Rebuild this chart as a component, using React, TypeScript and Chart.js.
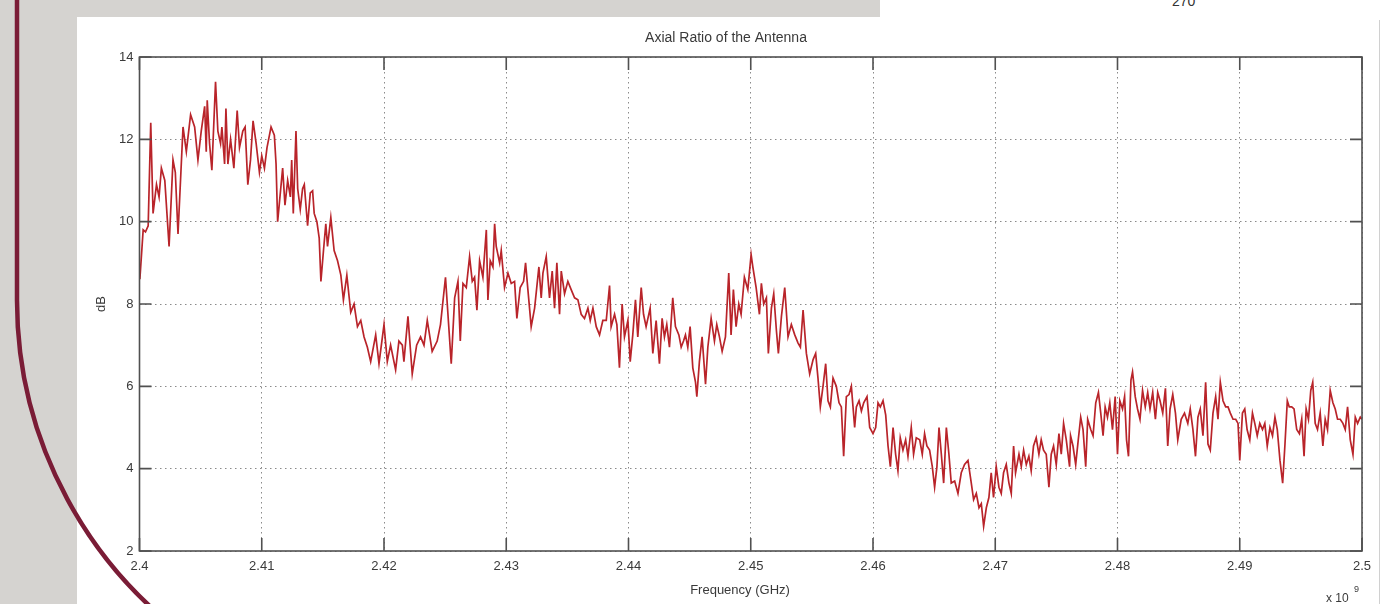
import React, { useEffect, useRef } from "react";
import { Chart, registerables } from "chart.js";

Chart.register(...registerables);

const TITLE = "Axial Ratio of the Antenna";
const X_LABEL = "Frequency (GHz)";
const Y_LABEL = "dB";
const X_EXP_BASE = "x 10";
const X_EXP_POWER = "9";
const CORNER_TEXT = "270";

const X_TICKS = [2.4, 2.41, 2.42, 2.43, 2.44, 2.45, 2.46, 2.47, 2.48, 2.49, 2.5];
const X_TICK_LABELS = ["2.4", "2.41", "2.42", "2.43", "2.44", "2.45", "2.46", "2.47", "2.48", "2.49", "2.5"];
const Y_TICKS = [2, 4, 6, 8, 10, 12, 14];
const Y_TICK_LABELS = ["2", "4", "6", "8", "10", "12", "14"];

// [frequency (GHz), axial ratio (dB)]
const band240: [number, number][] = [
  [2.40003, 8.6], [2.4003, 9.8], [2.40049, 9.75], [2.40071, 9.9], [2.40092, 12.4], [2.40111, 10.2],
  [2.40139, 10.9], [2.4016, 10.6], [2.40179, 11.3], [2.40207, 11.0], [2.40242, 9.4], [2.40274, 11.5],
  [2.40293, 11.2], [2.40315, 9.7], [2.40356, 12.3], [2.40383, 11.7], [2.40418, 12.6], [2.40451, 12.3],
  [2.40478, 11.5], [2.40505, 12.2], [2.40533, 12.8], [2.40546, 11.7], [2.40554, 12.95], [2.40573, 11.9],
  [2.40592, 11.25], [2.40622, 13.4], [2.40641, 12.2], [2.40663, 11.9], [2.40674, 12.3], [2.40696, 11.4],
  [2.40707, 12.75], [2.40723, 11.4], [2.40745, 12.0], [2.40772, 11.3], [2.40799, 12.7], [2.40818, 11.8],
  [2.40845, 12.2], [2.40864, 12.3], [2.40886, 10.9], [2.40908, 11.5], [2.40929, 12.45], [2.40954, 11.9],
  [2.40981, 11.2], [2.41, 11.6], [2.41022, 11.3], [2.41043, 11.8], [2.41076, 12.3], [2.41103, 12.1],
  [2.41117, 11.4], [2.4113, 10.0], [2.41152, 10.7], [2.41171, 11.3], [2.4119, 10.4], [2.41212, 11.0],
  [2.41234, 10.6], [2.41245, 11.5], [2.41258, 10.2], [2.4128, 12.2], [2.41294, 10.8], [2.41315, 10.3],
  [2.41334, 10.8], [2.41348, 10.9], [2.41375, 9.9], [2.41397, 10.7], [2.41416, 10.75], [2.41429, 10.2],
  [2.41451, 10.0], [2.4147, 9.6], [2.41484, 8.55], [2.41505, 9.3], [2.41524, 9.95], [2.41538, 9.4],
  [2.41565, 10.1], [2.41592, 9.3], [2.4162, 9.05], [2.41647, 8.7], [2.41668, 8.1], [2.41696, 8.7],
  [2.41728, 7.8], [2.41755, 8.0], [2.41783, 7.45], [2.4181, 7.6], [2.41837, 7.2], [2.41864, 6.95],
  [2.41891, 6.6], [2.41932, 7.25], [2.41959, 6.55], [2.42, 7.5], [2.42027, 6.6], [2.42054, 7.0],
  [2.42095, 6.4], [2.42122, 7.1], [2.4215, 7.0], [2.42163, 6.6], [2.42196, 7.7], [2.42231, 6.3],
  [2.42267, 7.0], [2.42299, 7.2], [2.42327, 7.0], [2.42354, 7.6], [2.42394, 6.85], [2.42435, 7.1],
  [2.42462, 7.5], [2.42503, 8.65],
];

const band2425: [number, number][] = [
  [2.4255, 6.55], [2.42578, 8.15], [2.42605, 8.55], [2.42624, 7.1], [2.42646, 8.5], [2.42673, 8.4],
  [2.427, 9.15], [2.42722, 8.55], [2.42741, 8.65], [2.4276, 7.85], [2.42782, 9.05], [2.42809, 8.65],
  [2.42837, 9.8], [2.4285, 8.1], [2.42869, 9.05], [2.42891, 8.9], [2.42905, 9.95], [2.42918, 9.4],
  [2.42946, 9.0], [2.42959, 9.3], [2.42986, 8.4], [2.43014, 8.75], [2.43041, 8.5], [2.43068, 8.55],
  [2.43087, 7.65], [2.43114, 8.4], [2.43142, 8.55], [2.43158, 9.0], [2.43177, 8.35], [2.43204, 7.45],
  [2.43232, 7.9], [2.43267, 8.9], [2.43286, 8.15], [2.433, 8.75], [2.43327, 9.15], [2.43354, 8.15],
  [2.43376, 8.8], [2.43395, 7.9], [2.43414, 9.0], [2.43436, 7.75], [2.4345, 8.8], [2.43477, 8.25],
  [2.43504, 8.55], [2.43531, 8.35], [2.43559, 8.15], [2.43586, 8.1], [2.43613, 7.75], [2.4364, 7.65],
  [2.43668, 7.9], [2.43687, 7.6], [2.43709, 7.9], [2.43736, 7.45], [2.43763, 7.25], [2.4379, 7.6],
  [2.43818, 7.6], [2.43845, 8.45], [2.43858, 7.45], [2.43886, 7.75], [2.43905, 7.5], [2.43926, 6.45],
  [2.43948, 8.0], [2.43967, 7.2], [2.43995, 7.6], [2.44014, 6.6], [2.44035, 7.25], [2.44057, 8.1],
  [2.44076, 7.2], [2.44104, 8.4], [2.44123, 7.75], [2.44144, 7.45], [2.44177, 7.9], [2.44199, 6.8],
  [2.44226, 7.6], [2.44253, 6.55], [2.44275, 7.65], [2.44294, 7.2], [2.44313, 7.5], [2.44335, 6.95],
  [2.44362, 8.15], [2.44384, 7.45], [2.44412, 7.25], [2.44431, 6.95], [2.4445, 7.1], [2.44466, 7.25],
  [2.44485, 6.95], [2.44504, 7.45], [2.44526, 6.45], [2.44548, 6.1], [2.44559, 5.75], [2.4458, 6.6],
  [2.44602, 7.2], [2.4463, 6.05], [2.44649, 6.95], [2.44676, 7.65], [2.44703, 7.1], [2.44722, 7.5],
  [2.44744, 7.2], [2.44766, 6.85], [2.44793, 7.2], [2.4482, 8.75], [2.44839, 7.25], [2.44858, 8.35],
  [2.4488, 7.45], [2.44902, 8.0], [2.44921, 7.75], [2.44948, 8.65], [2.44976, 8.35], [2.45003, 9.2],
  [2.45017, 8.9], [2.45044, 8.4], [2.45071, 7.75],
];

const band245: [number, number][] = [
  [2.45087, 8.5], [2.45106, 8.0], [2.45128, 8.15], [2.45144, 6.8], [2.45169, 7.9], [2.45188, 8.25],
  [2.4521, 7.35], [2.45226, 6.8], [2.45251, 7.7], [2.45278, 8.4], [2.45305, 7.2], [2.45332, 7.5],
  [2.4536, 7.25], [2.45387, 7.05], [2.45406, 6.95], [2.45428, 7.85], [2.45455, 6.8], [2.45482, 6.3],
  [2.4551, 6.65], [2.45531, 6.8], [2.4555, 6.2], [2.45569, 5.5], [2.45591, 6.0], [2.45613, 6.55],
  [2.45632, 5.65], [2.45651, 5.5], [2.45673, 6.2], [2.457, 6.0], [2.45722, 5.6], [2.45741, 5.5],
  [2.4576, 4.3], [2.45782, 5.75], [2.45804, 5.8], [2.45823, 6.0], [2.4585, 5.0], [2.45864, 5.5],
  [2.45886, 5.65], [2.45905, 5.4], [2.45924, 5.6], [2.45951, 5.75], [2.45973, 5.0], [2.46, 4.85],
  [2.46022, 5.0], [2.46041, 5.6], [2.4606, 5.5], [2.46082, 5.65], [2.46104, 5.3], [2.46123, 4.55],
  [2.46142, 4.05], [2.46164, 5.0], [2.46185, 4.35], [2.46204, 3.95], [2.46223, 4.75], [2.46245, 4.45],
  [2.46267, 4.7], [2.46286, 4.3], [2.46313, 5.0], [2.46332, 4.35], [2.46354, 4.75], [2.46382, 4.7],
  [2.46403, 4.35], [2.46422, 4.85], [2.46441, 4.55], [2.46463, 4.45], [2.46485, 4.05], [2.46504, 3.55],
  [2.46523, 4.05], [2.4654, 5.0], [2.46559, 4.35], [2.46578, 3.65], [2.466, 5.0], [2.46621, 4.35],
  [2.4664, 3.65], [2.46668, 3.7], [2.46695, 3.4], [2.46722, 3.9], [2.46749, 4.1], [2.46777, 4.2],
  [2.46804, 3.65], [2.46823, 3.25], [2.46845, 3.4], [2.46867, 3.05], [2.46886, 3.15], [2.46905, 2.6],
  [2.46927, 3.05], [2.46948, 3.3], [2.46967, 3.9], [2.46986, 3.3], [2.47008, 4.05], [2.4703, 3.55],
  [2.47049, 3.4], [2.47068, 3.9], [2.4709, 4.1], [2.47112, 3.65], [2.47131, 3.4], [2.4715, 4.55],
  [2.47166, 3.9], [2.47194, 4.35], [2.47213, 4.05], [2.47232, 4.45], [2.47254, 4.1], [2.47275, 4.3],
  [2.47294, 3.95], [2.47313, 4.55], [2.47335, 4.75], [2.47357, 4.35], [2.47376, 4.7], [2.47395, 4.45],
  [2.47417, 4.35], [2.47439, 3.55], [2.47458, 4.35], [2.47477, 4.55], [2.47499, 4.1], [2.47521, 4.85],
  [2.4754, 4.35], [2.47559, 5.1], [2.47581, 4.7], [2.47608, 4.05],
];

const band2475: [number, number][] = [
  [2.47616, 4.8], [2.47636, 4.55], [2.47658, 4.1], [2.47679, 4.7], [2.47699, 5.25], [2.47718, 4.95],
  [2.4774, 4.05], [2.47756, 5.2], [2.47781, 4.95], [2.478, 4.8], [2.47822, 5.6], [2.47844, 5.85],
  [2.47863, 5.35], [2.47882, 4.8], [2.47899, 5.5], [2.47918, 5.25], [2.47937, 5.6], [2.47959, 4.95],
  [2.47981, 5.75], [2.48, 4.35], [2.48019, 5.65], [2.48041, 5.45], [2.48058, 5.75], [2.48074, 4.7],
  [2.4809, 4.3], [2.4811, 6.15], [2.48123, 6.35], [2.48145, 5.75], [2.48164, 5.45], [2.48184, 5.2],
  [2.48205, 5.9], [2.48227, 5.5], [2.48247, 5.85], [2.48266, 5.45], [2.48288, 5.85], [2.4831, 5.2],
  [2.48329, 5.85], [2.48348, 5.65], [2.4837, 5.35], [2.48392, 5.95], [2.48411, 4.55], [2.4843, 5.45],
  [2.48452, 5.8], [2.48474, 5.35], [2.48493, 4.7], [2.48521, 5.2], [2.48548, 5.35], [2.48575, 5.1],
  [2.48595, 5.45], [2.48617, 4.95], [2.48638, 4.3], [2.48658, 5.25], [2.48677, 5.45], [2.48699, 4.8],
  [2.48721, 6.1], [2.4874, 4.6], [2.48759, 4.45], [2.48781, 5.35], [2.48803, 5.75], [2.48822, 5.2],
  [2.48841, 6.1], [2.48863, 5.65], [2.48885, 5.5], [2.48904, 5.5], [2.48923, 5.35], [2.48945, 5.2],
  [2.48967, 5.2], [2.48986, 5.1], [2.49, 4.2], [2.49022, 5.35], [2.49041, 5.45], [2.4906, 4.95],
  [2.49082, 4.7], [2.49104, 5.35], [2.49123, 5.1], [2.49143, 4.8], [2.49164, 5.1], [2.49186, 4.95],
  [2.49205, 5.1], [2.49225, 4.55], [2.49247, 5.0], [2.49268, 4.8], [2.49288, 5.25], [2.49307, 4.95],
  [2.49329, 4.2], [2.49351, 3.65], [2.4937, 4.6], [2.49389, 5.65], [2.49405, 5.5], [2.49425, 5.5],
  [2.49444, 5.45], [2.49466, 4.95], [2.49488, 4.85], [2.49507, 5.2], [2.49526, 4.3], [2.49543, 5.45],
  [2.49562, 5.2], [2.49581, 5.9], [2.49597, 6.1], [2.49617, 5.1], [2.49636, 4.95], [2.49658, 5.35],
  [2.4968, 4.55], [2.49699, 5.2], [2.49718, 4.95], [2.4974, 5.9], [2.49762, 5.6], [2.49781, 5.45],
  [2.498, 5.2], [2.49822, 5.2], [2.49844, 5.1], [2.49863, 4.95], [2.49882, 5.5], [2.49904, 4.7],
  [2.49926, 4.35], [2.49945, 5.25], [2.49964, 5.1], [2.49986, 5.25], [2.5, 5.2],
];

const LINE_COLOR = "rgb(185, 36, 42)";
const TEXT_COLOR = "#3a3a3a";
const FONT_FAMILY = "'Liberation Sans', Arial, sans-serif";

const framePlugin = {
  id: "matlabFrame",
  afterDatasetsDraw(chart: any) {
    const { ctx, chartArea, scales } = chart;
    const { left, right, top, bottom } = chartArea;
    const xs = scales.x;
    const ys = scales.y;
    ctx.save();
    ctx.setLineDash([]);
    ctx.strokeStyle = "#505050";
    ctx.lineWidth = 1.6;
    ctx.strokeRect(left, top, right - left, bottom - top);
    ctx.beginPath();
    X_TICKS.forEach((v) => {
      const px = xs.getPixelForValue(v);
      ctx.moveTo(px, bottom);
      ctx.lineTo(px, bottom - 13);
      ctx.moveTo(px, top);
      ctx.lineTo(px, top + 13);
    });
    Y_TICKS.forEach((v) => {
      const py = ys.getPixelForValue(v);
      ctx.moveTo(left, py);
      ctx.lineTo(left + 12, py);
      ctx.moveTo(right, py);
      ctx.lineTo(right - 12, py);
    });
    ctx.stroke();

    ctx.fillStyle = TEXT_COLOR;
    ctx.textAlign = "center";
    ctx.textBaseline = "middle";
    ctx.font = `14px ${FONT_FAMILY}`;
    ctx.fillText(TITLE, 726, 38);
    ctx.font = `13px ${FONT_FAMILY}`;
    ctx.fillText(X_LABEL, 740, 590);
    ctx.save();
    ctx.translate(101, 304);
    ctx.rotate(-Math.PI / 2);
    ctx.fillText(Y_LABEL, 0, 0);
    ctx.restore();
    ctx.textAlign = "left";
    ctx.font = `12px ${FONT_FAMILY}`;
    ctx.fillText(X_EXP_BASE, 1326, 599);
    ctx.font = `9px ${FONT_FAMILY}`;
    ctx.fillText(X_EXP_POWER, 1354, 590);
    ctx.restore();
  },
};

export default function App() {
  const canvasRef = useRef<HTMLCanvasElement | null>(null);

  useEffect(() => {
    const canvas = canvasRef.current;
    if (!canvas) return;
    const points = [...band240, ...band2425, ...band245, ...band2475].map(([f, v]) => ({ x: f, y: v }));
    const chart = new Chart(canvas, {
      type: "line",
      data: {
        datasets: [
          {
            label: "Axial Ratio",
            data: points,
            borderColor: LINE_COLOR,
            borderWidth: 1.7,
            pointRadius: 0,
            tension: 0,
            fill: false,
          },
        ],
      },
      options: {
        responsive: false,
        animation: false,
        events: [],
        layout: { padding: { left: 0, right: 20, top: 57, bottom: 0 } },
        plugins: {
          legend: { display: false },
          tooltip: { enabled: false },
          title: { display: false },
        },
        scales: {
          x: {
            type: "linear",
            min: 2.4,
            max: 2.5,
            afterBuildTicks: (s: any) => {
              s.ticks = X_TICKS.map((v) => ({ value: v }));
            },
            afterFit: (s: any) => {
              s.height = 53;
            },
            ticks: {
              autoSkip: false,
              maxRotation: 0,
              padding: 8,
              color: TEXT_COLOR,
              font: { family: FONT_FAMILY, size: 13 },
              callback: (_v: any, i: number) => X_TICK_LABELS[i],
            },
            grid: { color: "#8a8a8a", lineWidth: 1, drawTicks: false },
            border: { display: false, dash: [1.5, 3.5] },
          },
          y: {
            type: "linear",
            min: 2,
            max: 14,
            afterBuildTicks: (s: any) => {
              s.ticks = Y_TICKS.map((v) => ({ value: v }));
            },
            afterFit: (s: any) => {
              s.width = 139.5;
            },
            ticks: {
              autoSkip: false,
              padding: 6,
              color: TEXT_COLOR,
              font: { family: FONT_FAMILY, size: 13 },
              callback: (_v: any, i: number) => Y_TICK_LABELS[i],
            },
            grid: { color: "#8a8a8a", lineWidth: 1, drawTicks: false },
            border: { display: false, dash: [1.5, 3.5] },
          },
        },
      },
      plugins: [framePlugin],
    });
    return () => chart.destroy();
  }, []);

  return (
    <div
      style={{
        position: "fixed",
        left: 0,
        top: 0,
        width: 1382,
        height: 604,
        overflow: "hidden",
        background: "#d5d3d0",
        fontFamily: FONT_FAMILY,
      }}
    >
      <div style={{ position: "absolute", left: 880, top: 0, width: 502, height: 17, background: "#ffffff" }} />
      <div style={{ position: "absolute", left: 77, top: 17, width: 1305, height: 587, background: "#ffffff" }} />
      <div style={{ position: "absolute", left: 1379, top: 20, width: 1, height: 584, background: "#d0d0d0" }} />
      <div
        style={{
          position: "absolute",
          left: 1172,
          top: -7,
          fontSize: 14,
          color: "#333",
          lineHeight: "16px",
        }}
      >
        {CORNER_TEXT}
      </div>
      <canvas
        ref={canvasRef}
        width={1382}
        height={604}
        style={{ position: "absolute", left: 0, top: 0, width: 1382, height: 604 }}
      />
      <svg
        width={1382}
        height={604}
        style={{ position: "absolute", left: 0, top: 0, pointerEvents: "none" }}
      >
        <path d="M 17 -5 L 17 300 A 418 418 0 0 0 206 650" fill="none" stroke="rgb(122, 28, 54)" strokeWidth={4.5} />
      </svg>
    </div>
  );
}
